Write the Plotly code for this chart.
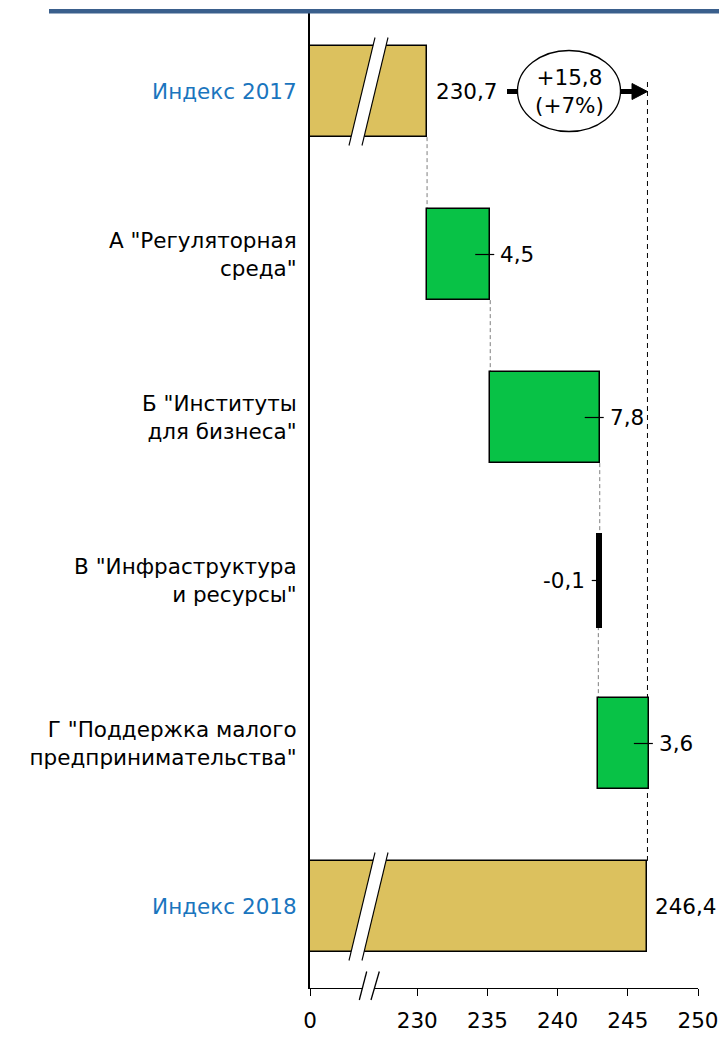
import plotly.graph_objects as go

# ---------------- data ----------------
categories = [
    "Индекс 2017",
    'А "Регуляторная<br>среда"',
    'Б "Институты<br>для бизнеса"',
    'В "Инфраструктура<br>и ресурсы"',
    'Г "Поддержка малого<br>предпринимательства"',
    "Индекс 2018",
]
index_2017 = 230.7
changes = [4.5, 7.8, -0.1, 3.6]
index_2018 = 246.4
change_abs = 15.8
change_pct = 7
tick_values = [0, 230, 235, 240, 245, 250]
tick_labels = ["0", "230", "235", "240", "245", "250"]

# ---------------- styling ----------------
FONT = "DejaVu Sans, Liberation Sans, Arial, sans-serif"
FS = 21.5
GOLD = "#DCC15E"
GREEN = "#08C246"
BLUE_LABEL = "#1A75BE"
TOP_LINE = "#3A5F8C"

# page body has an 8px margin: figure is offset by (8, 8) on screen
OX, OY = 8, 8
W, H = 727 - OX, 1038 - OY
SL, ST, SB, SR = 310, 10, 988, 698          # plot area edges on screen
ML, MT = SL - OX, ST - OY
MR, MB = (OX + W) - SR, (OY + H) - SB
PW = SR - SL
PH = SB - ST
BREAK_FROM = 230
GAP = 7.64          # axis units used for the compressed 0..230 stretch
BW = 0.56


def U(v):
    """map a value onto the broken axis"""
    return 0.0 if v == 0 else v - BREAK_FROM + GAP


XMAX = U(tick_values[-1])
PXU = PW / XMAX
ROW = PH / len(categories)


def xp(px):  # screen pixel -> x data
    return (px - SL) / PXU


def yp(py):  # screen pixel -> y data (reversed category axis)
    return (py - ST) / ROW - 0.5


def paper_x(px):
    return (px - SL) / PW


def paper_y(py):
    return (SB - py) / PH


def P(x, y):
    return f"{paper_x(x)},{paper_y(y)}"


# cumulative waterfall
starts, ends = [], []
cur = index_2017
for c in changes:
    starts.append(cur)
    cur = round(cur + c, 4)
    ends.append(cur)

bases = [0] + [U(s) for s in starts] + [0]
lengths = [U(index_2017)] + changes + [U(index_2018)]
colors = [GOLD] + [GREEN if c > 0 else "black" for c in changes] + [GOLD]
line_w = [1.5] + [1.5 if c > 0 else 4 for c in changes] + [1.5]
ypos = list(range(len(categories)))

fig = go.Figure()
fig.add_trace(go.Bar(
    orientation="h", y=ypos, x=lengths, base=bases, width=BW,
    marker=dict(color=colors, line=dict(color="black", width=line_w)),
    hoverinfo="skip", showlegend=False,
))

shapes = []
annotations = []


def fmt(v):
    return f"{v:.1f}".replace(".", ",")


# value labels
annotations.append(dict(x=U(index_2017), y=0, xref="x", yref="y", text=fmt(index_2017),
                        xanchor="left", xshift=7, showarrow=False))
for i, c in enumerate(changes):
    row = i + 1
    if c > 0:
        e = U(ends[i])
        annotations.append(dict(x=e, y=row, xref="x", yref="y", text=fmt(c),
                                xanchor="left", xshift=8, showarrow=False))
        shapes.append(dict(type="line", xref="x", yref="y", x0=e - 15 / PXU, x1=e + 4 / PXU,
                           y0=row, y1=row, line=dict(color="black", width=1.2)))
    else:
        s = U(starts[i])
        annotations.append(dict(x=s, y=row, xref="x", yref="y", text=fmt(c),
                                xanchor="right", xshift=-13, showarrow=False))
        shapes.append(dict(type="line", xref="x", yref="y", x0=s - 8 / PXU, x1=s,
                           y0=row, y1=row, line=dict(color="black", width=1.2)))
annotations.append(dict(x=U(index_2018), y=5, xref="x", yref="y", text=fmt(index_2018),
                        xanchor="left", xshift=6, showarrow=False))

# gray connectors
conn_vals = [index_2017] + ends[:-1]
for i, v in enumerate(conn_vals):
    shapes.append(dict(type="line", xref="x", yref="y", x0=U(v), x1=U(v),
                       y0=i + BW / 2, y1=i + 1 - BW / 2, layer="below",
                       line=dict(color="#7F7F7F", width=1, dash="4px,3px")))

# long black dashed line at the final value
shapes.append(dict(type="line", xref="x", yref="y", x0=U(index_2018), x1=U(index_2018),
                   y0=yp(82), y1=5 - BW / 2, layer="below",
                   line=dict(color="black", width=1, dash="5px,4px")))

# arrow with ellipse
shapes.append(dict(type="line", xref="x", yref="y", x0=xp(507), x1=xp(519), y0=0, y1=0,
                   line=dict(color="black", width=5)))
shapes.append(dict(type="line", xref="x", yref="y", x0=xp(620), x1=xp(636), y0=0, y1=0,
                   line=dict(color="black", width=5)))
tip = U(index_2018)
shapes.append(dict(type="path", xref="x", yref="y",
                   path=f"M {xp(632)},{yp(83.5)} L {tip},0 L {xp(632)},{yp(99.5)} Z",
                   fillcolor="black", line=dict(color="black", width=1)))
shapes.append(dict(type="circle", xref="x", yref="y", x0=xp(517.5), x1=xp(620.5),
                   y0=yp(50.5), y1=yp(131.5), fillcolor="white",
                   line=dict(color="black", width=1.3)))
annotations.append(dict(x=xp(569), y=0, xref="x", yref="y",
                        text=f"+{fmt(change_abs)}<br>(+{change_pct}%)",
                        showarrow=False, xanchor="center", yanchor="middle"))

# bar breaks on the index bars
for row in (0, 5):
    cy = ST + (row + 0.5) * ROW
    cx = 368.5
    t, b = cy - 54, cy + 54
    shapes.append(dict(type="path", xref="paper", yref="paper",
                       path=f"M {P(cx+6.5,t)} L {P(cx+19.5,t)} L {P(cx-6.5,b)} L {P(cx-19.5,b)} Z",
                       fillcolor="white", line=dict(width=0)))
    shapes.append(dict(type="line", xref="paper", yref="paper",
                       x0=paper_x(cx + 6.5), y0=paper_y(t), x1=paper_x(cx - 19.5), y1=paper_y(b),
                       line=dict(color="black", width=1.1)))
    shapes.append(dict(type="line", xref="paper", yref="paper",
                       x0=paper_x(cx + 19.5), y0=paper_y(t), x1=paper_x(cx - 6.5), y1=paper_y(b),
                       line=dict(color="black", width=1.1)))

# axis break
shapes.append(dict(type="path", xref="paper", yref="paper",
                   path=f"M {P(366.7,971.5)} L {P(379.3,971.5)} L {P(371,1000)} L {P(359.3,1000)} Z",
                   fillcolor="white", line=dict(width=0)))
for (x0, x1) in ((366.7, 359.3), (379.3, 371)):
    shapes.append(dict(type="line", xref="paper", yref="paper",
                       x0=paper_x(x0), y0=paper_y(971.5), x1=paper_x(x1), y1=paper_y(1000),
                       line=dict(color="black", width=1.3)))

# top blue rule
shapes.append(dict(type="rect", xref="paper", yref="paper",
                   x0=paper_x(49), x1=paper_x(740), y0=paper_y(13.5), y1=paper_y(9),
                   fillcolor=TOP_LINE, line=dict(width=0)))

ticktext = []
for c in categories:
    if c.startswith("Индекс"):
        ticktext.append(f"<span style='color:{BLUE_LABEL}'>{c}</span>")
    else:
        ticktext.append(c)

fig.update_layout(
    width=W, height=H,
    margin=dict(l=ML, r=MR, t=MT, b=MB, pad=0, autoexpand=False),
    paper_bgcolor="white", plot_bgcolor="white",
    font=dict(family=FONT, size=FS, color="black"),
    shapes=shapes, annotations=annotations,
    bargap=0,
    xaxis=dict(range=[0, XMAX], tickvals=[U(v) for v in tick_values], ticktext=tick_labels,
               showgrid=False, zeroline=False, showline=True, linecolor="black", linewidth=1.3,
               ticks="outside", ticklen=7, tickwidth=1.3, tickcolor="black",
               ticklabelstandoff=6, automargin=False, fixedrange=True),
    yaxis=dict(range=[len(categories) - 0.5, -0.5], tickvals=ypos, ticktext=ticktext,
               showgrid=False, zeroline=False, showline=True, linecolor="black", linewidth=2,
               ticks="", ticklabelstandoff=7, automargin=False, fixedrange=True),
)

fig.write_html("out.html")
